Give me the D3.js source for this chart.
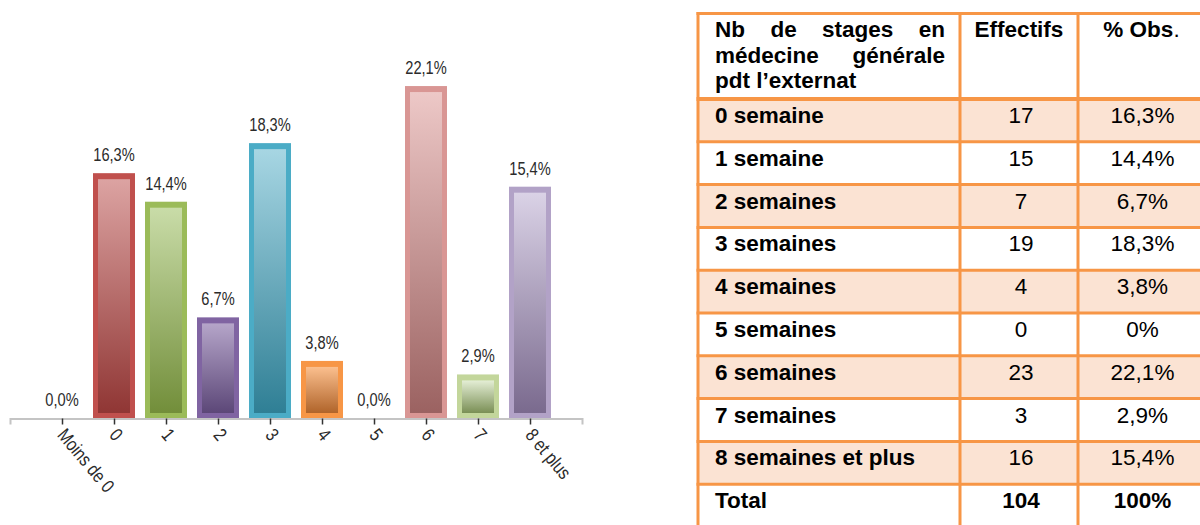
<!DOCTYPE html>
<html>
<head>
<meta charset="utf-8">
<script src="https://cdn.jsdelivr.net/npm/d3@7"></script>
<style>
  body { margin: 0; background: #fff; }
  svg { display: block; }
</style>
</head>
<body>
<svg width="1200" height="525"></svg>
<script>
// chart data
var categories = ["Moins de 0", "0", "1", "2", "3", "4", "5", "6", "7", "8 et plus"];
var pcts = [0, 16.3, 14.4, 6.7, 18.3, 3.8, 0, 22.1, 2.9, 15.4];
var pctLabels = ["0,0%", "16,3%", "14,4%", "6,7%", "18,3%", "3,8%", "0,0%", "22,1%", "2,9%", "15,4%"];

// border / top / bottom colours of each bar
var borderCols = ["#c0504d", "#c0504d", "#9bbb59", "#8064a2", "#4bacc6", "#f79646", "#c0504d", "#d99694", "#c3d69b", "#b2a2c7"];
var lightCols = ["#dca3a2", "#dca3a2", "#c9dca8", "#b5a5c9", "#a7d6e3", "#fbbf8e", "#dca3a2", "#edc8c7", "#e4eed5", "#dad2e6"];
var darkCols = ["#903634", "#903634", "#728e3a", "#5c4778", "#2f7f95", "#b0642a", "#903634", "#9b6261", "#7a8f55", "#7a6a8e"];

// table data
var rowLabels = ["0 semaine", "1 semaine", "2 semaines", "3 semaines", "4 semaines",
                 "5 semaines", "6 semaines", "7 semaines", "8 semaines et plus"];
var effectifs = [17, 15, 7, 19, 4, 0, 23, 3, 16];
var obsLabels = ["16,3%", "14,4%", "6,7%", "18,3%", "3,8%", "0%", "22,1%", "2,9%", "15,4%"];
var totalEff = 104, totalObs = "100%";

var svg = d3.select("svg");
var defs = svg.append("defs");

//---------------- bar chart ----------------
// condensed look: arial-like font squeezed horizontally
var chartFont = "'Liberation Sans', Arial, sans-serif";
var squeeze = 0.77;
var base = 418;

var x = d3.scalePoint().domain(categories).range([10, 582]).padding(1);
var y = d3.scaleLinear().domain([0, 25]).range([base, 42.5]);
var barW = 42;

// one gradient per bar
categories.forEach(function(c, i) {
  var g = defs.append("linearGradient")
      .attr("id", "grad" + i)
      .attr("x1", 0).attr("y1", 0).attr("x2", 0).attr("y2", 1);
  g.append("stop").attr("offset", "0%").attr("stop-color", lightCols[i]);
  g.append("stop").attr("offset", "100%").attr("stop-color", darkCols[i]);
});

var bars = svg.append("g").attr("class", "bars")
  .selectAll("g")
  .data(categories)
  .enter().append("g")
  .filter(function(d, i) { return pcts[i] > 0; });

bars.append("rect")
    .attr("x", function(d) { return x(d) - barW / 2; })
    .attr("y", function(d) { return y(pcts[categories.indexOf(d)]); })
    .attr("width", barW)
    .attr("height", function(d) { return base - y(pcts[categories.indexOf(d)]); })
    .attr("fill", function(d) { return borderCols[categories.indexOf(d)]; });

bars.append("rect")
    .attr("x", function(d) { return x(d) - barW / 2 + 5; })
    .attr("y", function(d) { return y(pcts[categories.indexOf(d)]) + 6; })
    .attr("width", barW - 10)
    .attr("height", function(d) { return base - y(pcts[categories.indexOf(d)]) - 11; })
    .attr("fill", function(d) { return "url(#grad" + categories.indexOf(d) + ")"; });

// value labels
svg.append("g").attr("class", "values")
  .selectAll("text")
  .data(categories)
  .enter().append("text")
    .attr("transform", function(d, i) {
      return "translate(" + x(d) + "," + (y(pcts[i]) - 12) + ") scale(" + squeeze + ",1)";
    })
    .attr("text-anchor", "middle")
    .attr("font-family", chartFont)
    .attr("font-size", 19)
    .attr("fill", "#2b2b2b")
    .text(function(d, i) { return pctLabels[i]; });

// x axis
var xAxis = svg.append("g")
    .attr("transform", "translate(0," + (base + 0.5) + ")")
    .call(d3.axisBottom(x).tickSize(6).tickSizeOuter(6));

xAxis.select(".domain").attr("stroke", "#c4c4c4").attr("stroke-width", 2);
xAxis.selectAll(".tick line").attr("stroke", "#333").attr("stroke-width", 1.5);
xAxis.selectAll(".tick text")
    .attr("font-family", chartFont)
    .attr("font-size", 19)
    .attr("fill", "#2b2b2b")
    .attr("text-anchor", "start")
    .attr("x", 0).attr("y", 0).attr("dy", 0)
    .attr("transform", "translate(-6,17) rotate(50) scale(0.82,1)");

//---------------- table ----------------
var tFont = "'Liberation Sans', Arial, sans-serif";
var tSize = 22.5;
var orange = "#f79646";
var colX = [698, 960, 1078, 1207];
var headTop = 13.5, headBottom = 99;
var rowH = 42.8;
var nRows = rowLabels.length + 1; // + total row
var rowY = d3.scaleLinear().domain([0, 1]).range([headBottom, headBottom + rowH]);

var table = svg.append("g").attr("class", "table");

// shaded rows
table.selectAll("rect.shade")
  .data(rowLabels)
  .enter().append("rect")
  .filter(function(d, i) { return i % 2 === 0; })
    .attr("class", "shade")
    .attr("x", colX[0])
    .attr("y", function(d) { return rowY(rowLabels.indexOf(d)); })
    .attr("width", colX[3] - colX[0])
    .attr("height", rowH)
    .attr("fill", "#fbe3d3");

// horizontal lines
var hLines = [headTop, headBottom];
for (var i = 1; i <= nRows; i++) hLines.push(rowY(i));
table.selectAll("line.h")
  .data(hLines)
  .enter().append("line")
    .attr("x1", colX[0] - 1.5).attr("x2", colX[3])
    .attr("y1", function(d) { return d; }).attr("y2", function(d) { return d; })
    .attr("stroke", orange)
    .attr("stroke-width", function(d, i) { return i === 1 ? 4 : 3; });

// vertical lines
table.selectAll("line.v")
  .data(colX)
  .enter().append("line")
    .attr("x1", function(d) { return d; }).attr("x2", function(d) { return d; })
    .attr("y1", headTop - 1.5).attr("y2", rowY(nRows) + 1.5)
    .attr("stroke", orange)
    .attr("stroke-width", 3);

function txt(s, xx, yy, bold, anchor) {
  return table.append("text")
    .attr("x", xx).attr("y", yy)
    .attr("font-family", tFont)
    .attr("font-size", tSize)
    .attr("font-weight", bold ? "bold" : "normal")
    .attr("text-anchor", anchor || "start")
    .attr("fill", "#000")
    .text(s);
}

// header, justified first two lines
var hx0 = 715, hx1 = 945;
[["Nb", "de", "stages", "en"], ["médecine", "générale"]].forEach(function(words, li) {
  var yy = 37 + li * 25.5;
  var nodes = words.map(function(w) { return txt(w, 0, yy, true); });
  var widths = nodes.map(function(n) { return n.node().getComputedTextLength(); });
  var gap = (hx1 - hx0 - d3.sum(widths)) / (words.length - 1);
  var cx = hx0;
  nodes.forEach(function(n, k) { n.attr("x", cx); cx += widths[k] + gap; });
});
txt("pdt l’externat", hx0, 88, true);
txt("Effectifs", (colX[1] + colX[2]) / 2, 37, true, "middle");
var obsHead = txt("% Obs", (colX[2] + colX[3]) / 2 - 1, 37, true, "middle");
obsHead.append("tspan").attr("font-weight", "normal").text(".");

// body rows
rowLabels.forEach(function(r, i) {
  var yy = rowY(i) + 24;
  txt(r, hx0, yy, true);
  txt(effectifs[i], (colX[1] + colX[2]) / 2 + 2, yy, false, "middle");
  txt(obsLabels[i], (colX[2] + colX[3]) / 2, yy, false, "middle");
});
var ty = rowY(rowLabels.length) + 24;
txt("Total", hx0, ty, true);
txt(totalEff, (colX[1] + colX[2]) / 2 + 2, ty, true, "middle");
txt(totalObs, (colX[2] + colX[3]) / 2, ty, true, "middle");
</script>
</body>
</html>
